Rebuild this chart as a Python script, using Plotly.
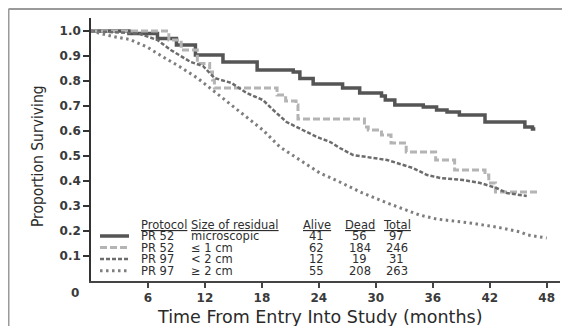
import plotly.graph_objects as go

# ---------------- data ----------------
t_micro = [0, 4, 7, 9, 11, 13.9, 17.5, 21.3, 22, 23.4, 26.5, 28.3, 30.6, 31.0, 32, 35, 36.4, 37.5, 38.8, 41.5, 45.7, 46.5, 46.8]
s_micro = [1.0, 0.99, 0.97, 0.944, 0.904, 0.876, 0.844, 0.836, 0.81, 0.788, 0.772, 0.752, 0.74, 0.724, 0.704, 0.696, 0.684, 0.676, 0.664, 0.636, 0.616, 0.608, 0.608]

t_le1 = [0, 8.2, 9.5, 11.2, 12.5, 12.8, 13.0, 19.6, 20.5, 21.6, 21.8, 28.8, 29.2, 30.6, 31.6, 33.2, 36.3, 38.3, 41.5, 41.9, 42.6, 47.0]
s_le1 = [1.0, 0.964, 0.924, 0.87, 0.836, 0.804, 0.772, 0.744, 0.72, 0.704, 0.648, 0.616, 0.604, 0.584, 0.552, 0.516, 0.484, 0.444, 0.424, 0.392, 0.356, 0.356]

t_lt2 = [0, 5, 7, 8.4, 10.5, 11.8, 13, 14.8, 16.4, 18.1, 19.2, 20.6, 22.3, 23.8, 25.2, 26.2, 27.6, 31.2, 33.9, 35.4, 36.8, 39.2, 41, 42.7, 43.8, 45.9]
s_lt2 = [1.0, 0.99, 0.964, 0.924, 0.876, 0.86, 0.812, 0.792, 0.752, 0.724, 0.684, 0.636, 0.604, 0.576, 0.556, 0.532, 0.504, 0.484, 0.452, 0.424, 0.412, 0.404, 0.392, 0.372, 0.352, 0.34]

t_ge2 = [0, 2.3, 4.1, 5.9, 7.6, 9.4, 11.2, 12.8, 14.6, 16.4, 18.1, 19.9, 22, 24.1, 26.2, 28.6, 31.2, 34.6, 36.4, 39.9, 42.7, 45.2, 46, 48]
s_ge2 = [1.0, 0.978, 0.966, 0.936, 0.896, 0.856, 0.812, 0.764, 0.712, 0.656, 0.604, 0.536, 0.484, 0.432, 0.396, 0.352, 0.312, 0.264, 0.248, 0.232, 0.216, 0.196, 0.184, 0.172]

legend_protocol = ["PR 52", "PR 52", "PR 97", "PR 97"]
legend_size = ["microscopic", "\u2264 1 cm", "< 2 cm", "\u2265 2 cm"]
legend_alive = [41, 62, 12, 55]
legend_dead = [56, 184, 19, 208]
legend_total = [97, 246, 31, 263]
legend_headers = ["Protocol", "Size of residual", "Alive", "Dead", "Total"]

x_ticks = [6, 12, 18, 24, 30, 36, 42, 48]
y_ticks = [0.1, 0.2, 0.3, 0.4, 0.5, 0.6, 0.7, 0.8, 0.9, 1.0]

# ---------------- styles ----------------
styles = [
    dict(color="#555555", width=3.5, dash="solid", shape="hv"),
    dict(color="#b4b4b4", width=3, dash="7px,3px", shape="hv"),
    dict(color="#6c6c6c", width=2.5, dash="4px,2px", shape="linear"),
    dict(color="#7e7e7e", width=3, dash="2.5px,3.5px", shape="linear"),
]
series = [(t_micro, s_micro), (t_le1, s_le1), (t_lt2, s_lt2), (t_ge2, s_ge2)]

fig = go.Figure()
for (tx, sy), st in zip(series, styles):
    fig.add_trace(go.Scatter(x=tx, y=sy, mode="lines",
                             line=dict(color=st["color"], width=st["width"], dash=st["dash"], shape=st["shape"]),
                             showlegend=False, hoverinfo="skip"))

TXT = "#2e2e2e"
FONT = "DejaVu Sans, Liberation Sans, Arial, sans-serif"
LFS = 11.5
annotations = []
shapes = []

# legend table (data coordinates)
row_y = [0.180, 0.134, 0.088, 0.041]
head_y = 0.225
col_x = [5.05, 10.3]
num_x = [23.8, 28.3, 32.2]
for i, h in enumerate(legend_headers):
    if i < 2:
        annotations.append(dict(x=col_x[i], y=head_y, xref="x", yref="y", text=h, showarrow=False,
                                xanchor="left", yanchor="middle",
                                font=dict(family=FONT, size=LFS, color=TXT, lineposition="under")))
    else:
        annotations.append(dict(x=num_x[i - 2], y=head_y, xref="x", yref="y", text=h, showarrow=False,
                                xanchor="center", yanchor="middle",
                                font=dict(family=FONT, size=LFS, color=TXT, lineposition="under")))
for r in range(4):
    vals = [legend_protocol[r], legend_size[r]]
    for c in range(2):
        annotations.append(dict(x=col_x[c], y=row_y[r], xref="x", yref="y", text=vals[c], showarrow=False,
                                xanchor="left", yanchor="middle",
                                font=dict(family=FONT, size=LFS, color=TXT)))
    nums = [legend_alive[r], legend_dead[r], legend_total[r]]
    for c in range(3):
        annotations.append(dict(x=num_x[c], y=row_y[r], xref="x", yref="y", text=str(nums[c]), showarrow=False,
                                xanchor="center", yanchor="middle",
                                font=dict(family=FONT, size=LFS, color=TXT)))
    st = styles[r]
    shapes.append(dict(type="line", xref="x", yref="y", x0=0.95, x1=4.0, y0=row_y[r], y1=row_y[r],
                       line=dict(color=st["color"], width=st["width"], dash=st["dash"])))

# origin label and titles
annotations.append(dict(x=-0.034, y=-0.045, xref="paper", yref="paper", text="0", showarrow=False,
                        xanchor="center", yanchor="middle",
                        font=dict(family=FONT, size=12, color="#3a3a3a", weight="bold")))
annotations.append(dict(x=-0.113, y=0.475, xref="paper", yref="paper", text="Proportion Surviving",
                        showarrow=False, textangle=-90, xanchor="center", yanchor="middle",
                        font=dict(family="Liberation Sans Narrow, DejaVu Sans Condensed, Arial Narrow, sans-serif",
                                  size=15.5, color="#2a2a2a")))
annotations.append(dict(x=0.488, y=-0.137, xref="paper", yref="paper",
                        text="Time From Entry Into Study (months)", showarrow=False,
                        xanchor="center", yanchor="middle",
                        font=dict(family="DejaVu Sans, Liberation Sans, Arial, sans-serif", size=17.5, color="#2a2a2a")))

# outer frame (gray) lines
shapes.append(dict(type="line", xref="paper", yref="paper", x0=-0.1759, x1=-0.1759, y0=1.0342, y1=-0.25,
                   line=dict(color="#9a9a9a", width=2)))
shapes.append(dict(type="line", xref="paper", yref="paper", x0=-0.1759, x1=1.05, y0=1.0342, y1=1.0342,
                   line=dict(color="#9a9a9a", width=2)))

fig.update_layout(
    width=570, height=326,
    margin=dict(l=83, r=18, t=10, b=53),
    paper_bgcolor="white", plot_bgcolor="white",
    annotations=annotations, shapes=shapes,
    xaxis=dict(range=[0, 49.4], tickvals=x_ticks, ticktext=[str(v) for v in x_ticks],
               showgrid=False, zeroline=False, showline=True, linecolor="#444", linewidth=1.5,
               ticks="outside", ticklen=5, tickwidth=1.5, tickcolor="#444",
               tickfont=dict(family=FONT, size=12, color="#3a3a3a", weight="bold")),
    yaxis=dict(range=[0, 1.052], tickvals=y_ticks, ticktext=["%.1f" % v for v in y_ticks],
               showgrid=False, zeroline=False, showline=True, linecolor="#333", linewidth=1.5,
               ticks="outside", ticklen=6, tickwidth=1.5, tickcolor="#333",
               tickfont=dict(family=FONT, size=12, color="#3a3a3a", weight="bold")),
)

fig.write_html("out.html")
